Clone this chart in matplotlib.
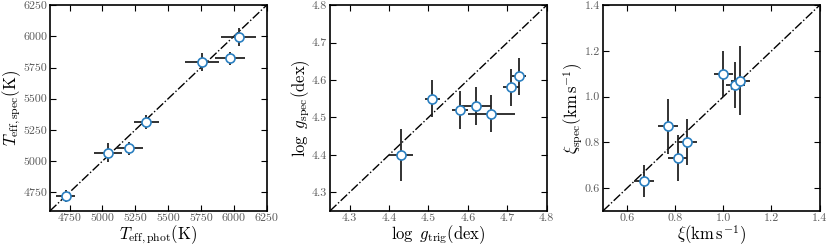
import matplotlib
matplotlib.use('Agg')
import matplotlib.pyplot as plt

plt.rcParams['font.family'] = 'serif'
plt.rcParams['font.serif'] = ['cmr10', 'DejaVu Serif']
plt.rcParams['mathtext.fontset'] = 'cm'
plt.rcParams['axes.formatter.use_mathtext'] = True

# Teff: photometric vs spectroscopic
teff_phot = [4720, 5040, 5205, 5333, 5757, 5972, 6037]
teff_phot_err = [72, 106, 102, 95, 128, 112, 136]
teff_spec = [4718, 5068, 5103, 5312, 5798, 5823, 5998]
teff_spec_err = [50, 73, 51, 55, 72, 52, 72]

# log g: trigonometric vs spectroscopic
logg_trig = [4.43, 4.51, 4.58, 4.62, 4.66, 4.71, 4.73]
logg_trig_err = [0.03, 0.02, 0.02, 0.04, 0.06, 0.02, 0.017]
logg_spec = [4.40, 4.55, 4.52, 4.53, 4.51, 4.58, 4.61]
logg_spec_err = [0.07, 0.05, 0.05, 0.05, 0.05, 0.05, 0.05]

# microturbulence
xi_emp = [0.67, 0.77, 0.81, 0.85, 1.00, 1.05, 1.07]
xi_emp_err = [0.04, 0.04, 0.04, 0.04, 0.04, 0.04, 0.04]
xi_spec = [0.63, 0.87, 0.73, 0.80, 1.10, 1.05, 1.07]
xi_spec_err = [0.07, 0.12, 0.10, 0.10, 0.10, 0.10, 0.15]

panels = [
    (teff_phot, teff_phot_err, teff_spec, teff_spec_err, (4600, 6250),
     [4750, 5000, 5250, 5500, 5750, 6000, 6250], '%d',
     r'$T_{\rm eff,phot}(\rm K)$', r'$T_{\rm eff,spec}(\rm K)$'),
    (logg_trig, logg_trig_err, logg_spec, logg_spec_err, (4.25, 4.8),
     [4.3, 4.4, 4.5, 4.6, 4.7, 4.8], '%.1f',
     r'$\log\ g_{\rm trig}(\rm dex)$', r'$\log\ g_{\rm spec}(\rm dex)$'),
    (xi_emp, xi_emp_err, xi_spec, xi_spec_err, (0.5, 1.4),
     [0.6, 0.8, 1.0, 1.2, 1.4], '%.1f',
     r'$\xi(\rm km\,s^{-1})$', r'$\xi_{\rm spec}(\rm km\,s^{-1})$'),
]

lefts = [0.0602, 0.3976, 0.7265]
fig = plt.figure(figsize=(8.3, 2.49), dpi=100)

for left, (x, xe, y, ye, lim, ticks, fmt, xlab, ylab) in zip(lefts, panels):
    ax = fig.add_axes([left, 0.153, 0.261, 0.826])
    ax.plot(lim, lim, color='black', linestyle='-.', linewidth=1.0, zorder=1)
    ax.errorbar(x, y, xerr=xe, yerr=ye, fmt='o', color='#222222',
                ecolor='#222222', elinewidth=1.3, capsize=0,
                markersize=6.5, markerfacecolor='white',
                markeredgecolor='#2a7fc0', markeredgewidth=1.2, zorder=3)
    ax.set_xlim(lim)
    ax.set_ylim(lim)
    ax.set_xticks(ticks)
    ax.set_yticks(ticks)
    ax.set_xticklabels([fmt % t for t in ticks])
    ax.set_yticklabels([fmt % t for t in ticks])
    ax.tick_params(direction='in', top=True, right=True, length=4,
                   width=0.8, labelsize=8.6, labelcolor='#5a5a5a', pad=2)
    for sp in ax.spines.values():
        sp.set_linewidth(1.2)
    ax.set_xlabel(xlab, fontsize=12, labelpad=0)
    ax.set_ylabel(ylab, fontsize=12, labelpad=0)

fig.savefig('out.png', dpi=100)
